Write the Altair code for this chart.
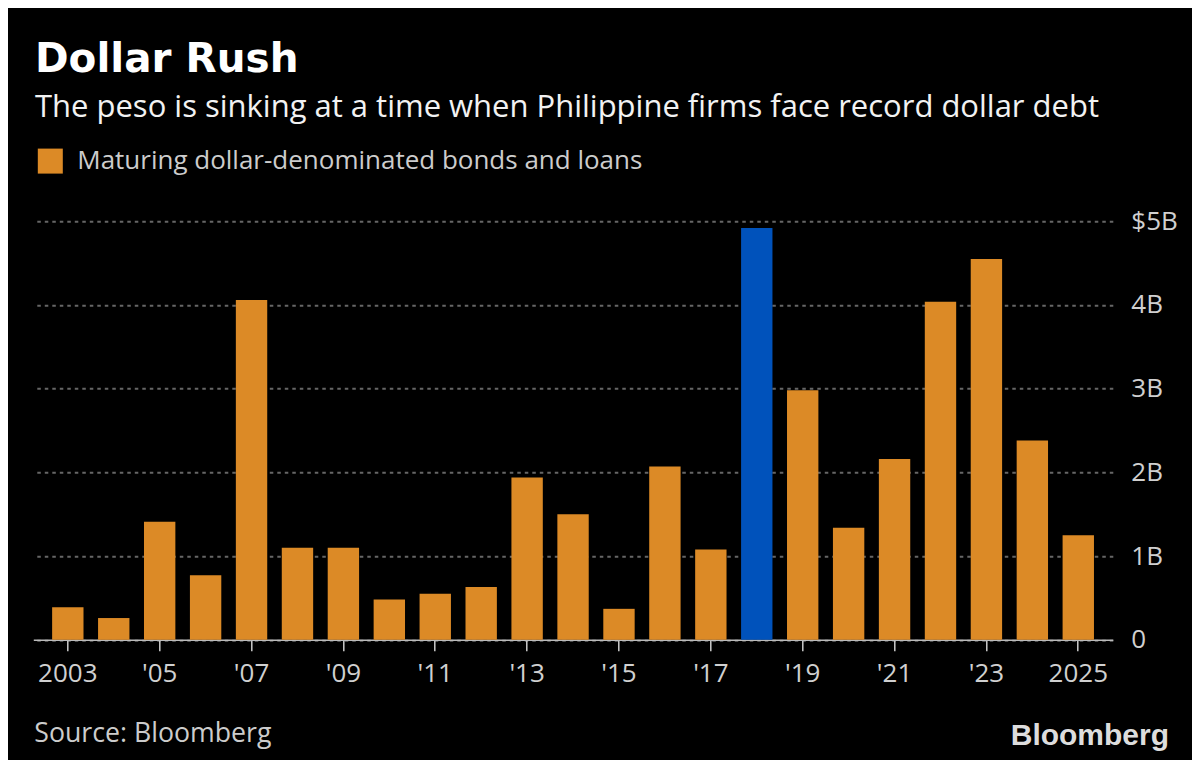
import altair as alt
import pandas as pd

years = list(range(2003, 2026))
values = [0.39, 0.26, 1.41, 0.77, 4.06, 1.10, 1.10, 0.48, 0.55, 0.63, 1.94, 1.50,
          0.37, 2.07, 1.08, 4.92, 2.98, 1.34, 2.16, 4.04, 4.55, 2.38, 1.25]
series_name = "Maturing dollar-denominated bonds and loans"
highlight_year = 2018
tick_years = list(range(2003, 2026, 2))
y_ticks = [0, 1, 2, 3, 4, 5]

title_text = "Dollar Rush"
subtitle_text = "The peso is sinking at a time when Philippine firms face record dollar debt"
source_text = "Source: Bloomberg"
logo_text = "Bloomberg"

ORANGE = "#dc8a26"
BLUE = "#0052bb"
FONT = "Open Sans"

df = pd.DataFrame({
    "year": years,
    "value": values,
    "group": [("Highlight" if y == highlight_year else series_name) for y in years],
})

W, H = 1079.5, 418.5

bars = alt.Chart(df).mark_bar().encode(
    x=alt.X("year:O",
            scale=alt.Scale(paddingInner=0.317, paddingOuter=0.41),
            axis=alt.Axis(values=tick_years, title=None, labelAngle=0,
                          labelExpr="(datum.value == 2003 || datum.value == 2025) ? '' + datum.value : \"'\" + substring('' + datum.value, 2, 4)",
                          domainColor="#bbbbbb", domainWidth=1.5,
                          tickColor="#cccccc", tickSize=11, tickWidth=1.5,
                          labelColor="#d0d0d0", labelFontSize=26, labelFont=FONT,
                          labelPadding=10, grid=False)),
    y=alt.Y("value:Q",
            scale=alt.Scale(domain=[0, 5], nice=False),
            axis=alt.Axis(orient="right", values=y_ticks, title=None,
                          labelExpr="datum.value == 5 ? '$5B' : (datum.value == 0 ? '0' : datum.value + 'B')",
                          domain=False, ticks=False, labelPadding=18,
                          labelColor="#d0d0d0", labelFontSize=26, labelFont=FONT,
                          labelAlign="left", labelBaseline="middle",
                          grid=True, gridColor="#666666", gridDash=[3.5, 4], gridWidth=2)),
    color=alt.Color("group:N",
                    scale=alt.Scale(domain=[series_name, "Highlight"], range=[ORANGE, BLUE]),
                    legend=alt.Legend(orient="none", legendX=4, legendY=-73.2,
                                      values=[series_name], title=None,
                                      symbolType="square", symbolSize=625,
                                      symbolStrokeWidth=0, symbolOpacity=1,
                                      labelFontSize=26, labelFont=FONT,
                                      labelColor="#cccccc", labelOffset=14,
                                      padding=0, labelLimit=800)),
)

def label(text, x, y, size, color, weight="normal", font=FONT, align="left"):
    return alt.Chart(alt.Data(values=[{}])).mark_text(
        text=text, align=align, baseline="alphabetic", fontSize=size,
        font=font, fontWeight=weight, color=color,
    ).encode(x=alt.value(x), y=alt.value(y))

title = label(title_text, 1.7, 72 - 221.3, 40.5, "#ffffff", weight="bold", font="DejaVu Sans")
subtitle = label(subtitle_text, 1.7, 117 - 221.3, 31, "#f2f2f2")
source = label(source_text, 1.0, 742 - 221.3, 26.7, "#cccccc")
logo = label(logo_text, 1169 - 33.3, 745 - 221.3, 30, "#dddddd", weight="bold",
             font="Liberation Sans", align="right")

chart = alt.layer(bars, title, subtitle, source, logo).properties(
    width=W, height=H,
    autosize=alt.AutoSizeParams(type="none"),
    padding={"left": 25.3, "top": 213.3, "right": 79, "bottom": 120},
    background="#000000",
).configure_view(stroke=None)

chart.save("out.html", embed_options={"renderer": "svg", "actions": False})
